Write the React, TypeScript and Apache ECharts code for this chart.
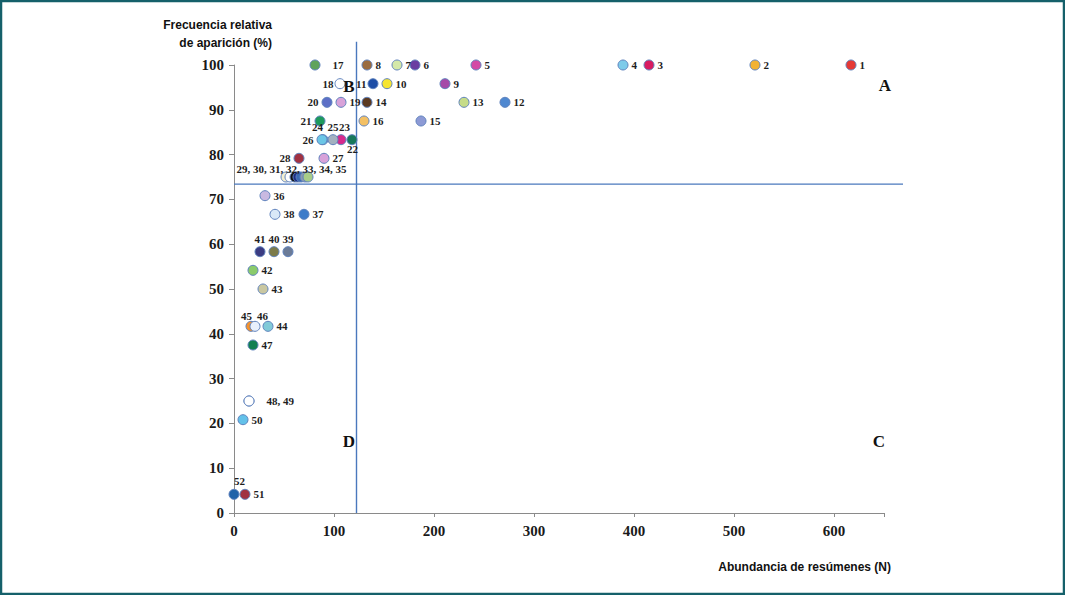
import React, { useEffect, useRef } from "react";
import * as echarts from "echarts";

const names = ["1","2","3","4","5","6","7","8","9","10","11","12","13","14","15","16","17","18","19","20","21","22","23","24","25","26","27","28","29","30","31","32","33","34","35","36","37","38","39","40","41","42","43","44","45","46","47","48","49","50","51","52"];
const xs = [617,521,415,389,242,181,163,133,211,153,139,271,230,133,187,130,81,106,107,93,86,118,107,89,99,88,90,65,52,56,61,64,67,71,74,31,70,41,54,40,26,19,29,34,17,21,19,15,15,9,11,0];
const ys = [100,100,100,100,100,100,100,100,95.83,95.83,95.83,91.67,91.67,91.67,87.5,87.5,100,95.83,91.67,91.67,87.5,83.33,83.33,83.33,83.33,83.33,79.17,79.17,75,75,75,75,75,75,75,70.83,66.67,66.67,58.33,58.33,58.33,54.17,50,41.67,41.67,41.67,37.5,25,25,20.83,4.17,4.17];
const colors = ["#e53935","#f2b233","#d81b60","#7ecbea","#d34aa5","#6a3ea1","#d4e8a8","#9b6c3f","#a54aa8","#f6e531","#1e4ea6","#4f88d0","#c6dc88","#5b3a21","#8d9ad5","#f3c064","#5fa35d","#ffffff","#d8a2d9","#5c6fc6","#1e9a5c","#17795a","#d62a8c","#6cc6e6","#a3b1c0","#6cc6e6","#d8a2da","#a13242","#f3eed0","#ffffff","#111111","#1b2c84","#3a6ab2","#8a9ab0","#a8cc88","#c9b9e1","#3d7bc9","#dae9f8","#6b7b97","#7c7b4a","#3b3c82","#8acb6b","#c9c7a1","#82cad8","#f5922b","#e8f0fc","#118052","#ffffff","#ffffff","#63c1e9","#a13242","#1f62a9"];
const labelTexts = ["1","2","3","4","5","6","7","8","9","10","11","12","13","14","15","16","17","18","19","20","21","22","23","24","25","26","27","28","","","29, 30, 31, 32, 33, 34, 35","","","","","36","37","38","39","40","41","42","43","44","45","46","47","48, 49","","50","51","52"];
const labelPlacement = ["right","right","right","right","right","right","right","right","right","right","left","right","right","right","right","right","right","left","right","left","left","bottom","top","top","top","left","right","left","top","top","top","top","top","top","top","right","right","right","top","top","top","right","right","right","top","top","right","right","right","right","right","top"];
const labelShift: Record<string, number[]> = {
  "22": [1, -4],
  "23": [4, 0],
  "24": [-5, 0],
  "31": [-3, 5],
  "45": [-4, 3],
  "46": [8, 3],
  "52": [6, 0],
};
const xTicks = [0, 100, 200, 300, 400, 500, 600];
const yTicks = [0, 10, 20, 30, 40, 50, 60, 70, 80, 90, 100];
const meanX = 122.5;
const meanY = 73.4;
const quadrants = [
  { t: "A", x: 651, y: 95.5 },
  { t: "B", x: 115, y: 95.3 },
  { t: "C", x: 645, y: 16 },
  { t: "D", x: 115, y: 16 },
];

const serif = "'Liberation Serif', 'Times New Roman', serif";
const sans = "'Liberation Sans', Arial, sans-serif";
const SYM = 10;

export default function App() {
  const ref = useRef<HTMLDivElement>(null);
  useEffect(() => {
    if (!ref.current) return;
    const chart = echarts.init(ref.current, null, { renderer: "svg" });
    const data = names.map((n, i) => {
      const pos = labelPlacement[i];
      let dist = pos === "top" ? 2 : 3;
      if (n === "17" || n === "48") dist = 12;
      if (n === "11" || n === "18") dist = 1;
      const shift = labelShift[n];
      let label: any = {
        show: labelTexts[i] !== "",
        formatter: labelTexts[i],
        position: pos,
        distance: dist,
      };
      if (shift) {
        if (pos === "top") {
          label = {
            ...label,
            position: [SYM / 2 + shift[0], -dist + shift[1]],
            align: "center",
            verticalAlign: "bottom",
          };
        } else if (pos === "bottom") {
          label = {
            ...label,
            position: [SYM / 2 + shift[0], SYM + dist + shift[1]],
            align: "center",
            verticalAlign: "top",
          };
        }
      }
      return {
        name: n,
        value: [xs[i], ys[i]],
        itemStyle: { color: colors[i] },
        label,
      };
    });
    chart.setOption({
      animation: false,
      backgroundColor: "#ffffff",
      grid: { left: 234, right: 181, top: 65, bottom: 82, containLabel: false },
      xAxis: {
        type: "value",
        min: 0,
        max: 650,
        interval: 100,
        splitLine: { show: false },
        axisLine: { show: true, lineStyle: { color: "#8a8a8a", width: 1 } },
        axisTick: { show: true, length: 4, lineStyle: { color: "#8a8a8a" } },
        axisLabel: {
          color: "#1a1a1a",
          fontFamily: serif,
          fontWeight: "bold",
          fontSize: 15,
          margin: 10,
          formatter: (v: number) => (xTicks.includes(v) ? String(v) : ""),
        },
      },
      yAxis: {
        type: "value",
        min: 0,
        max: 100,
        interval: 10,
        splitLine: { show: false },
        axisLine: { show: true, lineStyle: { color: "#8a8a8a", width: 1 } },
        axisTick: { show: true, length: 5, lineStyle: { color: "#8a8a8a" } },
        axisLabel: {
          color: "#1a1a1a",
          fontFamily: serif,
          fontWeight: "bold",
          fontSize: 15,
          margin: 10,
          formatter: (v: number) => (yTicks.includes(v) ? String(v) : ""),
        },
      },
      series: [
        {
          type: "scatter",
          symbol: "circle",
          symbolSize: SYM,
          clip: false,
          itemStyle: { borderColor: "#5f82bd", borderWidth: 1, opacity: 1 },
          label: {
            color: "#1e1e1e",
            fontFamily: serif,
            fontWeight: "bold",
            fontSize: 11,
          },
          labelLayout: { hideOverlap: false },
          data,
        },
      ],
    });

    const px = (x: number) => chart.convertToPixel({ xAxisIndex: 0 }, x) as number;
    const py = (y: number) => chart.convertToPixel({ yAxisIndex: 0 }, y) as number;
    const lineStyle = { stroke: "#4a78bd", lineWidth: 1.4 };
    chart.setOption({
      graphic: [
        {
          type: "rect",
          shape: { x: 1, y: 1, width: 1063, height: 593 },
          style: { fill: "none", stroke: "#15606a", lineWidth: 2.5 },
          silent: true,
          z: 100,
        },
        {
          type: "line",
          shape: { x1: px(meanX), y1: py(105.2), x2: px(meanX), y2: py(0) },
          style: lineStyle,
          z: 1,
        },
        {
          type: "line",
          shape: { x1: px(0), y1: py(meanY), x2: px(669), y2: py(meanY) },
          style: lineStyle,
          z: 1,
        },
        ...quadrants.map((q) => ({
          type: "text",
          x: px(q.x),
          y: py(q.y),
          style: {
            text: q.t,
            fill: "#111111",
            font: `bold 17px ${serif}`,
            textAlign: "center",
            textVerticalAlign: "middle",
          },
          z: 10,
        })),
        {
          type: "text",
          x: 272,
          y: 16,
          style: {
            text: "Frecuencia relativa\nde aparición (%)",
            fill: "#111111",
            font: `bold 12px ${sans}`,
            textAlign: "right",
            lineHeight: 18,
          },
        },
        {
          type: "text",
          x: 891,
          y: 561,
          style: {
            text: "Abundancia de resúmenes (N)",
            fill: "#111111",
            font: `bold 12px ${sans}`,
            textAlign: "right",
          },
        },
      ],
    });
    return () => chart.dispose();
  }, []);
  return (
    <div
      ref={ref}
      style={{ position: "fixed", left: 0, top: 0, width: 1065, height: 595, background: "#fff" }}
    />
  );
}
